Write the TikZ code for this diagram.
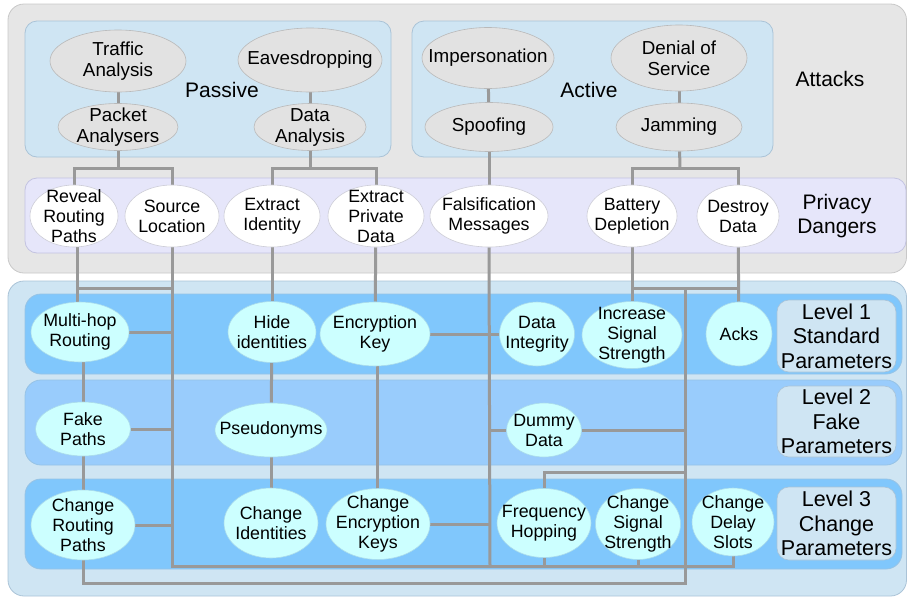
\documentclass[tikz,border=0pt]{standalone}
\usepackage{fontspec}
\setmainfont{Liberation Sans}
\usetikzlibrary{shapes.geometric}
\definecolor{outergray}{RGB}{230,230,230}
\definecolor{graydraw}{RGB}{200,200,200}
\definecolor{paleblue}{RGB}{207,229,243}
\definecolor{palebluedraw}{RGB}{170,195,215}
\definecolor{lavender}{RGB}{230,230,250}
\definecolor{lavdraw}{RGB}{195,195,225}
\definecolor{levA}{RGB}{128,199,252}
\definecolor{levB}{RGB}{153,204,252}
\definecolor{levdraw}{RGB}{150,195,230}
\definecolor{atkfill}{RGB}{226,226,226}
\definecolor{atkdraw}{RGB}{185,185,185}
\definecolor{pddraw}{RGB}{205,205,215}
\definecolor{cmfill}{RGB}{204,255,255}
\definecolor{cmdraw}{RGB}{170,220,235}
\definecolor{linegray}{RGB}{153,153,153}
\pgfdeclarelayer{bg}
\pgfdeclarelayer{mid}
\pgfsetlayers{bg,mid,main}
\tikzset{
  sz/.style 2 args={minimum width=#1pt, minimum height=#2pt},
  ell/.style={ellipse, inner sep=0pt, line width=0.6pt},
  atkell/.style={ell, fill=atkfill, draw=atkdraw},
  pdell/.style={ell, fill=white, draw=pddraw},
  cmell/.style={ell, fill=cmfill, draw=cmdraw},
  atxt/.style={label={[font=\fontsize{18.8}{21}\selectfont, align=center, inner sep=0pt]center:#1}},
  ctxt/.style={label={[font=\fontsize{17.8}{20}\selectfont, align=center, inner sep=0pt]center:#1}},
  conn/.style={draw=linegray, line width=3pt},
  biglabel/.style={align=center, font=\fontsize{21}{24.5}\selectfont, inner sep=0pt},
  lvlbox/.style={rectangle, rounded corners=12pt, fill=paleblue, draw=palebluedraw, line width=0.6pt,
    align=center, inner sep=0pt, minimum width=119pt, font=\fontsize{21.5}{24.5}\selectfont},
}
\begin{document}
\begin{tikzpicture}[x=1pt,y=-1pt]
\useasboundingbox (0,0) rectangle (908,598);

% ---------- boxes ----------
\begin{pgfonlayer}{bg}
\filldraw[fill=outergray, draw=graydraw, line width=0.8pt, rounded corners=16pt] (8,4) rectangle (906.5,273);
\filldraw[fill=paleblue, draw=palebluedraw, line width=0.8pt, rounded corners=12pt] (25,21) rectangle (391,157);
\filldraw[fill=paleblue, draw=palebluedraw, line width=0.8pt, rounded corners=12pt] (412,21) rectangle (773,157);
\filldraw[fill=lavender, draw=lavdraw, line width=0.8pt, rounded corners=12pt] (25,178) rectangle (906,253);
\filldraw[fill=paleblue, draw=palebluedraw, line width=0.8pt, rounded corners=16pt] (8,281) rectangle (906.5,596);
\filldraw[fill=levA, draw=levdraw, line width=0.8pt, rounded corners=16pt] (25,294) rectangle (902,374);
\filldraw[fill=levB, draw=levdraw, line width=0.8pt, rounded corners=16pt] (25,380) rectangle (902,465);
\filldraw[fill=levA, draw=levdraw, line width=0.8pt, rounded corners=16pt] (25,479) rectangle (902,569);
\end{pgfonlayer}

% ---------- labels ----------
\node[biglabel] (passive) at (222,90) {Passive};
\node[biglabel] (active) at (589,90) {Active};
\node[biglabel] (attacks) at (830,79) {Attacks};
\node[biglabel] (privacy) at (837,216) {Privacy\\Dangers};
\node[lvlbox, minimum height=72pt] (lev1) at (836.5,336) {Level 1\\Standard\\Parameters};
\node[lvlbox, minimum height=71pt] (lev2) at (836.5,421.5) {Level 2\\Fake\\Parameters};
\node[lvlbox, minimum height=73pt] (lev3) at (836.5,523.5) {Level 3\\Change\\Parameters};

% ---------- attacks ----------
\node[atkell, sz={136}{62}, atxt={Traffic\\Analysis}] (ta) at (118,61) {};
\node[atkell, sz={120}{47}, atxt={Packet\\Analysers}] (pa) at (118,127) {};
\node[atkell, sz={144}{64}, atxt={Eavesdropping}] (eav) at (310,60) {};
\node[atkell, sz={112}{47}, atxt={Data\\Analysis}] (da) at (310,127) {};
\node[atkell, sz={132}{61}, atxt={Impersonation}] (imp) at (488,58) {};
\node[atkell, sz={128}{49}, atxt={Spoofing}] (sp) at (489,127) {};
\node[atkell, sz={136}{66}, atxt={Denial of\\Service}] (dos) at (679,58) {};
\node[atkell, sz={126}{48}, atxt={Jamming}] (jam) at (679,127) {};

% ---------- privacy dangers ----------
\node[pdell, sz={88}{62}, ctxt={Reveal\\Routing\\Paths}] (rrp) at (74,216) {};
\node[pdell, sz={94}{62}, ctxt={Source\\Location}] (sl) at (172,216) {};
\node[pdell, sz={96}{62}, ctxt={Extract\\Identity}] (ei) at (272,216) {};
\node[pdell, sz={96}{62}, ctxt={Extract\\Private\\Data}] (epd) at (376,216) {};
\node[pdell, sz={118}{62}, ctxt={Falsification\\Messages}] (fm) at (489,216) {};
\node[pdell, sz={90}{62}, ctxt={Battery\\Depletion}] (bd) at (632,216) {};
\node[pdell, sz={82}{62}, ctxt={Destroy\\Data}] (dd) at (738,216) {};

% ---------- level 1 ----------
\node[cmell, sz={98}{60}, ctxt={Multi-hop\\Routing}] (mhr) at (80,332) {};
\node[cmell, sz={88}{61}, ctxt={Hide\\identities}] (hi) at (272,332) {};
\node[cmell, sz={110}{64}, ctxt={Encryption\\Key}] (ek) at (375,334) {};
\node[cmell, sz={75}{64}, ctxt={Data\\Integrity}] (di) at (537,334) {};
\node[cmell, sz={100}{67}, ctxt={Increase\\Signal\\Strength}] (iss) at (632,335) {};
\node[cmell, sz={66}{64}, ctxt={Acks}] (acks) at (739,334) {};

% ---------- level 2 ----------
\node[cmell, sz={95}{54}, ctxt={Fake\\Paths}] (fp) at (83,429) {};
\node[cmell, sz={112}{54}, ctxt={Pseudonyms}] (ps) at (271,430) {};
\node[cmell, sz={75}{54}, ctxt={Dummy\\Data}] (dum) at (544,430) {};

% ---------- level 3 ----------
\node[cmell, sz={104}{70}, ctxt={Change\\Routing\\Paths}] (crp) at (83,525) {};
\node[cmell, sz={94}{70}, ctxt={Change\\Identities}] (ci) at (271,523) {};
\node[cmell, sz={104}{71}, ctxt={Change\\Encryption\\Keys}] (cek) at (378,524) {};
\node[cmell, sz={94}{69}, ctxt={Frequency\\Hopping}] (fh) at (544,523) {};
\node[cmell, sz={85}{71}, ctxt={Change\\Signal\\Strength}] (css) at (638,524) {};
\node[cmell, sz={82}{68}, ctxt={Change\\Delay\\Slots}] (cds) at (733,522) {};

% ---------- junctions ----------
\coordinate (jA) at (118,168);
\coordinate (jB) at (310,168);
\coordinate (jC) at (680,168);
\coordinate (jD) at (172,288);
\coordinate (jE) at (172,566);
\coordinate (jF) at (685,288);
\coordinate (jG) at (685,583);
\coordinate (jH) at (685,472);
\coordinate (jI) at (490,566);

% ---------- connectors ----------
\begin{pgfonlayer}{mid}
\draw[conn] (ta) -- (pa);
\draw[conn] (eav) -- (da);
\draw[conn] (imp) -- (sp);
\draw[conn] (dos) -- (jam);
\draw[conn] (pa) -- (jA);
\draw[conn] (rrp.north) |- (jA) -| (sl.north);
\draw[conn] (da) -- (jB);
\draw[conn] (ei.north) |- (jB) -| (epd.north);
\draw[conn] (jam) -- (jC);
\draw[conn] (bd.north) |- (jC) -| (dd.north);
\draw[conn] (sp) -- (fm);

% left column
\draw[conn] (77,230) -- (77,310);
\draw[conn] (77,288) -- (jD);
\draw[conn] (sl.south) -- (jE) -| (cds.south);
\draw[conn] (mhr.east) -- (mhr.east -| jE);
\draw[conn] (fp.east) -- (fp.east -| jE);
\draw[conn] (crp.east) -- (crp.east -| jE);
\draw[conn] (83,345) -- (83,410);
\draw[conn] (83,440) -- (83,500);
\draw[conn] (crp.south) |- (jG) -- (jF);

% identity column
\draw[conn] (ei) -- (hi);
\draw[conn] (hi) -- (ps);
\draw[conn] (ps) -- (ci);

% encryption column
\draw[conn] (epd) -- (ek);
\draw[conn] (377,345) -- (377,500);
\draw[conn] (fm.south) -- (jI);
\draw[conn] (ek.east) -- (di.west);
\draw[conn] (dum.west) -- (dum.west -| jI);
\draw[conn] (cek.east) -- (cek.east -| jI);

% right part
\draw[conn] (bd) -- (iss);
\draw[conn] (dd) -- (acks);
\draw[conn] (bd.south |- jF) -- (dd.south |- jF);
\draw[conn] (dum.east) -- (dum.east -| jF);
\draw[conn] (fh.north) |- (jH);
\draw[conn] (fh.south) -- (fh.south |- jE);
\draw[conn] (css.south) -- (css.south |- jE);
\end{pgfonlayer}
\end{tikzpicture}
\end{document}
